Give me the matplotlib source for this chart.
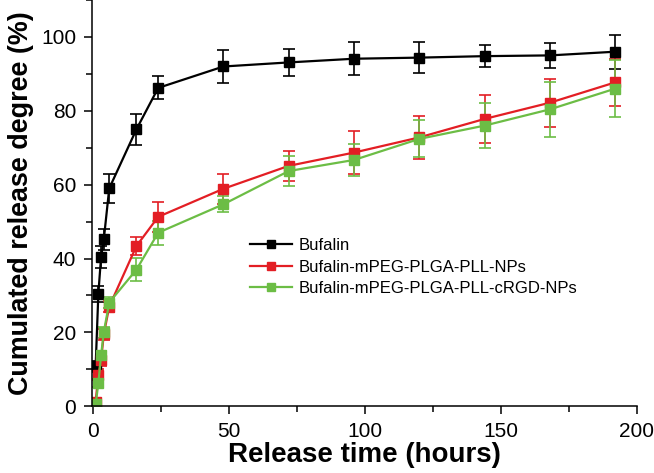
import matplotlib.pyplot as plt
from matplotlib.lines import Line2D
from matplotlib.ticker import MultipleLocator

plt.rcParams['font.family'] = ['Liberation Sans', 'DejaVu Sans']

# release time (hours)
t = [1, 2, 3, 4, 6, 16, 24, 48, 72, 96, 120, 144, 168, 192]

bufalin = [10.8, 30.5, 40.5, 45.2, 59, 75, 86.2, 92, 93.1, 94.1, 94.4, 94.8, 95, 96]
bufalin_err = [1.5, 2.2, 3, 2.8, 3.9, 4.2, 3.1, 4.5, 3.7, 4.4, 4.2, 3, 3.3, 4.6]

nps = [1.2, 8.6, 12.5, 19.5, 27, 43.4, 51.3, 58.9, 65.1, 68.7, 72.8, 77.8, 82.2, 87.7]
nps_err = [1, 1.5, 1.5, 1.5, 1.5, 2.4, 4, 4, 4.1, 5.8, 5.8, 6.5, 6.5, 6.4]

rgd = [0.5, 6.3, 13.8, 20.1, 28.1, 37, 47, 54.7, 63.7, 66.7, 72.4, 76, 80.4, 86]
rgd_err = [0.8, 1, 1.2, 1.5, 1.5, 3.2, 3.2, 2.2, 4.1, 4.4, 5, 6, 7.4, 7.7]

labels = ['Bufalin', 'Bufalin-mPEG-PLGA-PLL-NPs', 'Bufalin-mPEG-PLGA-PLL-cRGD-NPs']
colors = ['black', '#e31e24', '#6cbd45']

fig = plt.figure(figsize=(6.54, 4.73), dpi=100)
ax = fig.add_axes([0.140, 0.141, 0.834, 0.859])

handles = []
for y, e, c in zip([bufalin, nps, rgd], [bufalin_err, nps_err, rgd_err], colors):
    ax.errorbar(t, y, yerr=e, color=c, marker='s', markersize=6.5, lw=1.6,
                elinewidth=1.2, capsize=4, capthick=1.2)
    handles.append(Line2D([], [], color=c, marker='s', markersize=6, lw=1.6))

ax.set_xlim(-0.5, 200)
ax.set_ylim(0, 110)
ax.xaxis.set_major_locator(MultipleLocator(50))
ax.xaxis.set_minor_locator(MultipleLocator(25))
ax.yaxis.set_major_locator(MultipleLocator(20))
ax.yaxis.set_minor_locator(MultipleLocator(10))
ax.spines['top'].set_visible(False)
ax.spines['right'].set_visible(False)
for s in ['left', 'bottom']:
    ax.spines[s].set_linewidth(1.1)
ax.tick_params(which='major', direction='out', length=6, width=1.1, labelsize=15, pad=5)
ax.tick_params(which='minor', direction='out', length=4, width=1.1)

ax.set_xlabel('Release time (hours)', fontsize=20, fontweight='bold', labelpad=1)
ax.set_ylabel('Cumulated release degree (%)', fontsize=19.4, fontweight='bold', labelpad=5)

ax.legend(handles, labels, loc='center left', bbox_to_anchor=(250 / 654, 1 - 267 / 473),
          bbox_transform=fig.transFigure, frameon=False, fontsize=12,
          handlelength=2.5, handletextpad=0.4, labelspacing=0.4,
          borderpad=0, borderaxespad=0)

fig.savefig('out.png', dpi=100)
